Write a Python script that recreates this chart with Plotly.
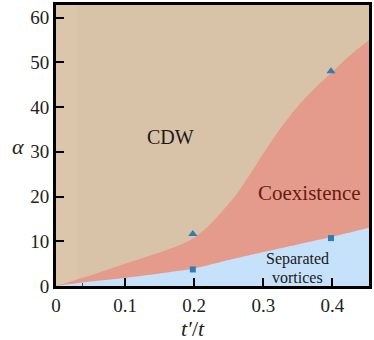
import plotly.graph_objects as go

# phase boundaries
upper_x = [0, 0.05, 0.1, 0.15, 0.18, 0.2, 0.22, 0.24, 0.26, 0.28, 0.3, 0.32, 0.34, 0.36, 0.38, 0.4, 0.425, 0.453]
upper_y = [0, 2.4, 5.0, 7.5, 9.2, 10.8, 13.3, 16.6, 20.2, 24.8, 29.6, 34.2, 38.3, 41.9, 45.0, 47.8, 51.5, 55.0]
lower_x = [0, 0.05, 0.1, 0.15, 0.2, 0.25, 0.3, 0.35, 0.4, 0.453]
lower_y = [0, 1.0, 1.8, 2.8, 3.9, 5.8, 7.6, 9.3, 11.0, 13.0]

tri_x = [0.198, 0.398]
tri_y = [11.6, 48.0]
sq_x = [0.198, 0.398]
sq_y = [3.7, 10.7]

x_ticks = [0, 0.1, 0.2, 0.3, 0.4]
y_ticks = [0, 10, 20, 30, 40, 50, 60]

tan = "#d9c3a8"
salmon = "#e59b8b"
blue = "#c6e1fa"
marker_col = "#2f7db3"
serif = "Liberation Serif"

fig = go.Figure()
fig.add_trace(go.Scatter(x=upper_x, y=upper_y, mode="lines",
                         line=dict(width=0, shape="spline", smoothing=0.6, color=salmon),
                         fill="tozeroy", fillcolor=salmon, showlegend=False, hoverinfo="skip"))
fig.add_trace(go.Scatter(x=lower_x, y=lower_y, mode="lines",
                         line=dict(width=0, shape="spline", smoothing=0.6, color=blue),
                         fill="tozeroy", fillcolor=blue, showlegend=False, hoverinfo="skip"))
fig.add_trace(go.Scatter(x=tri_x, y=tri_y, mode="markers",
                         marker=dict(symbol="triangle-up", size=8, color=marker_col), showlegend=False))
fig.add_trace(go.Scatter(x=sq_x, y=sq_y, mode="markers",
                         marker=dict(symbol="square", size=6, color=marker_col), showlegend=False))

# faint lighter strip along the left edge of the original image
fig.add_shape(type="rect", xref="x", yref="paper", x0=0, x1=0.031, y0=0, y1=1,
              fillcolor="#dbc6ac", line_width=0, layer="below")

fig.add_annotation(x=0.166, y=33.2, text="CDW", showarrow=False,
                   font=dict(family=serif, size=20, color="#1a1a1a"))
fig.add_annotation(x=0.367, y=20.8, text="Coexistence", showarrow=False,
                   font=dict(family=serif, size=21, color="#6b1a10"))
fig.add_annotation(x=0.35, y=6.0, text="Separated", showarrow=False,
                   font=dict(family=serif, size=16, color="#1a1a1a"))
fig.add_annotation(x=0.35, y=1.95, text="vortices", showarrow=False,
                   font=dict(family=serif, size=16, color="#1a1a1a"))

# axis titles as free text so that alpha stays upright
fig.add_annotation(xref="paper", yref="paper", x=-0.147, y=0.495, text="<i>α</i>", showarrow=False,
                   font=dict(family=serif, size=22, color="#222222"))
fig.add_annotation(xref="paper", yref="paper", x=0.438, y=-0.15, yanchor="middle", text="<i>t′</i>/<i>t</i>",
                   showarrow=False, font=dict(family=serif, size=22, color="#222222"))

fig.update_layout(
    width=374, height=340,
    margin=dict(l=56, r=5, t=5, b=54),
    paper_bgcolor="white",
    plot_bgcolor=tan,
    font=dict(family=serif, size=19, color="#222222"),
    xaxis=dict(range=[0, 0.453], tickvals=x_ticks, ticktext=["0", "0.1", "0.2", "0.3", "0.4"],
               ticks="inside", ticklen=8, tickwidth=1.5, tickcolor="black", automargin=False,
               minor=dict(tickvals=[0.039], ticks="inside", ticklen=3, tickwidth=1, tickcolor="#555555"),
               showgrid=False, zeroline=False, showline=True, linewidth=3, linecolor="black", mirror=True),
    yaxis=dict(range=[0, 62.8], tickvals=y_ticks, automargin=False,
               ticks="inside", ticklen=8, tickwidth=1.5, tickcolor="black",
               showgrid=False, zeroline=False, showline=True, linewidth=3, linecolor="black", mirror=True),
)

# the page body has a default 8px margin; drop it so the figure sits at the window corner
fig.write_html("out.html", config={"displayModeBar": False},
               post_script="document.body.style.margin='0';")
